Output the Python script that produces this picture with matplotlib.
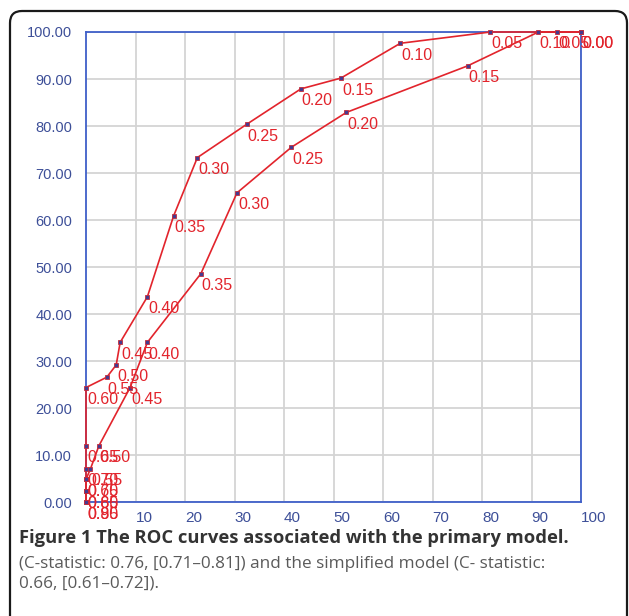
import matplotlib
matplotlib.use("Agg")
import matplotlib.pyplot as plt
from matplotlib.patches import FancyBboxPatch

# primary model (upper curve): 1 - specificity, sensitivity, cut-off labels
primary_fpr = [100, 81.7, 63.5, 51.5, 43.4, 32.5, 22.5, 17.7, 12.4, 6.9, 6.1, 4.2,
               0, 0, 0, 0, 0, 0]
primary_tpr = [100, 100, 97.6, 90.2, 87.9, 80.4, 73.3, 60.9, 43.7, 34.0, 29.2, 26.6,
               24.4, 12.0, 7.1, 4.9, 2.3, 0]
primary_cut = ["0.00", "0.05", "0.10", "0.15", "0.20", "0.25", "0.30", "0.35", "0.40",
               "0.45", "0.50", "0.55", "0.60", "0.65", "0.70", "0.75", "0.80", "0.85"]

# simplified model (lower curve)
simple_fpr = [100, 95.2, 91.4, 77.1, 52.6, 41.5, 30.5, 23.2, 12.4, 8.9, 2.6, 0.9,
              0, 0, 0]
simple_tpr = [100, 100, 100, 92.8, 82.9, 75.5, 65.8, 48.6, 34.0, 24.4, 12.0, 7.1,
              4.9, 2.3, 0]
simple_cut = ["0.00", "0.05", "0.10", "0.15", "0.20", "0.25", "0.30", "0.35", "0.40",
              "0.45", "0.50", "0.55", "0.60", "0.65", "0.90"]

x_ticks = [10, 20, 30, 40, 50, 60, 70, 80, 90, 100]
y_ticks = [0, 10, 20, 30, 40, 50, 60, 70, 80, 90, 100]

caption_title = "Figure 1 The ROC curves associated with the primary model."
caption_body = ("(C-statistic: 0.76, [0.71\u20130.81]) and the simplified model (C- statistic:\n"
                "0.66, [0.61\u20130.72]).")

W, H = 629, 616
LINE = "#e2242c"
AXBLUE = "#3f5fc8"
TICKBLUE = "#3d4f98"
NARROW = ["Liberation Sans Narrow", "Liberation Sans", "DejaVu Sans"]

fig = plt.figure(figsize=(W / 100, H / 100), dpi=100)

# background layer for the rounded frame and the caption (pixel coords)
bg = fig.add_axes([0, 0, 1, 1], zorder=0)
bg.set_xlim(0, W)
bg.set_ylim(H, 0)
bg.axis("off")
frame = FancyBboxPatch((10, 11), 617, 700, boxstyle="round,pad=0,rounding_size=12",
                       fc="white", ec="#1a1a1a", lw=1.6)
bg.add_patch(frame)
bg.text(19, 538, caption_title, fontsize=13.2, fontweight="bold", color="#333333",
        family=["Open Sans", "DejaVu Sans"], va="center", ha="left")
bg.text(19, 573.5, caption_body, fontsize=12.3, color="#5a5a5a", linespacing=1.3,
        family=["Open Sans", "DejaVu Sans"], va="center", ha="left")

ax = fig.add_axes([86 / W, 1 - 502.3 / H, 495 / W, 470.3 / H], zorder=1)
ax.set_xlim(0, 100)
ax.set_ylim(0, 100)
ax.patch.set_alpha(0)
for s in ax.spines.values():
    s.set_color(AXBLUE)
    s.set_linewidth(1.3)
ax.grid(True, color="#d4d4d4", lw=1.3)
ax.set_axisbelow(True)

ax.set_xticks(x_ticks)
ax.set_xticklabels([str(v) for v in x_ticks], ha="left", family=NARROW,
                   fontsize=11, color=TICKBLUE)
ax.set_yticks(y_ticks)
ax.set_yticklabels([f"{v:.2f}" for v in y_ticks], family=NARROW,
                   fontsize=10.5, color=TICKBLUE)
ax.tick_params(length=0, pad=6)
ax.tick_params(axis="y", pad=10)

for fpr, tpr, cut in [(primary_fpr, primary_tpr, primary_cut),
                      (simple_fpr, simple_tpr, simple_cut)]:
    ax.plot(fpr, tpr, color=LINE, lw=1.2, clip_on=False, zorder=3)
    ax.plot(fpr, tpr, ls="none", marker="s", ms=3.4, mfc="#463a8e", mec="#c42c3c",
            mew=0.6, clip_on=False, zorder=4)
    for x, y, lab in zip(fpr, tpr, cut):
        ax.annotate(lab, (x, y), xytext=(1, -12), textcoords="offset pixels",
                    ha="left", va="center", color=LINE, fontsize=11.5,
                    family=NARROW, annotation_clip=False, zorder=5)

fig.savefig("out.png", dpi=100)
